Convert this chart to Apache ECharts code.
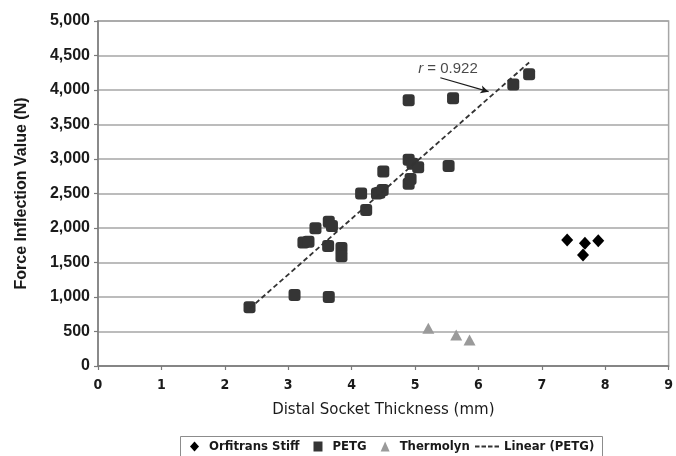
<!DOCTYPE html>
<html>
<head>
<meta charset="utf-8">
<script src="https://cdn.jsdelivr.net/npm/echarts@6/dist/echarts.min.js"></script>
<style>
html,body{margin:0;padding:0;background:#fff;}
#c{width:676px;height:456px;}
</style>
</head>
<body>
<div id="c"></div>
<script>
// ---- data ----
var orfX = [7.40, 7.68, 7.89, 7.65];
var orfY = [1826, 1778, 1816, 1609];

var petgX = [2.39, 3.10, 3.64, 3.24, 3.32, 3.43, 3.64, 3.69, 3.63, 3.84, 3.84, 4.15, 4.23, 4.40, 4.44, 4.49, 4.50, 4.90, 4.90, 4.96, 4.90, 4.93, 5.05, 5.53, 5.60, 6.55, 6.80];
var petgY = [850, 1030, 1000, 1790, 1800, 1995, 2090, 2030, 1740, 1710, 1590, 2500, 2260, 2500, 2510, 2550, 2820, 3850, 2990, 2930, 2640, 2710, 2880, 2900, 3880, 4080, 4230];

var thermX = [5.21, 5.65, 5.86];
var thermY = [546, 449, 377];

var trendX = [2.39, 6.80];
var trendY = [832, 4399];

var annotPos = [5.52, 4304];
var arrowFrom = [5.40, 4178];
var arrowTo = [6.16, 3976];

var seriesNames = ['Orfitrans Stiff', 'PETG', 'Thermolyn', 'Linear (PETG)'];
var xName = 'Distal Socket Thickness (mm)';
var yName = 'Force Inflection Value (N)';

function zip(a, b) { return a.map(function (v, i) { return [v, b[i]]; }); }

var chart = echarts.init(document.getElementById('c'), null, { renderer: 'canvas' });

var legendFont = { fontFamily: 'DejaVu Sans Condensed, DejaVu Sans, sans-serif', fontWeight: 'bold', fontSize: 13, color: '#1a1a1a' };
var dashIcon = 'path://M0,0h4.5v2h-4.5z M6.5,0h4.5v2h-4.5z M13,0h4.5v2h-4.5z M19.5,0h4.5v2h-4.5z';

var option = {
  animation: false,
  backgroundColor: '#fff',
  grid: { left: 98, right: 3, top: 21, bottom: 90, show: true, borderColor: '#a6a6a6', borderWidth: 1.5, backgroundColor: 'transparent' },
  xAxis: {
    type: 'value', min: 0, max: 9, interval: 1,
    name: xName, nameLocation: 'middle', nameGap: 37,
    nameTextStyle: { fontFamily: 'DejaVu Sans, sans-serif', fontSize: 15, color: '#1a1a1a' },
    axisLine: { show: true, onZero: false, lineStyle: { color: '#7a7a7a', width: 1.5 } },
    axisTick: { show: true, length: 4, lineStyle: { color: '#7a7a7a', width: 1.2 } },
    axisLabel: { margin: 12, fontFamily: 'DejaVu Sans Condensed, DejaVu Sans, sans-serif', fontWeight: 'bold', fontSize: 14, color: '#1a1a1a' },
    splitLine: { show: false }
  },
  yAxis: {
    type: 'value', min: 0, max: 5000, interval: 500,
    name: yName, nameLocation: 'middle', nameGap: 68,
    nameTextStyle: { fontFamily: 'Liberation Sans, Arial, sans-serif', fontWeight: 'bold', fontSize: 16, color: '#1a1a1a' },
    axisLine: { show: true, lineStyle: { color: '#7a7a7a', width: 1.5 } },
    axisTick: { show: true, length: 4, lineStyle: { color: '#7a7a7a', width: 1.2 } },
    axisLabel: {
      margin: 8, fontFamily: 'Liberation Sans, Arial, sans-serif', fontWeight: 'bold', fontSize: 16, color: '#1a1a1a',
      formatter: function (v) { return v.toString().replace(/\B(?=(\d{3})+(?!\d))/g, ','); }
    },
    splitLine: { show: true, lineStyle: { color: '#a6a6a6', width: 1.5 } }
  },
  legend: [
    {
      data: [
        { name: seriesNames[0], icon: 'diamond', itemStyle: { color: '#000', opacity: 1 } },
        { name: seriesNames[1], icon: 'rect', itemStyle: { color: '#353535', opacity: 1 } },
        { name: seriesNames[2], icon: 'triangle', itemStyle: { color: '#9a9a9a', opacity: 1 } }
      ],
      left: 190, top: 440, padding: 0,
      itemWidth: 9, itemHeight: 10, itemGap: 14,
      textStyle: Object.assign({ padding: [0, 0, 0, 5] }, legendFont)
    },
    {
      data: [{ name: seriesNames[3], icon: dashIcon, itemStyle: { color: '#333', opacity: 1 } }],
      left: 475, top: 440, padding: 0,
      itemWidth: 24, itemHeight: 2, itemGap: 0,
      textStyle: legendFont
    }
  ],
  graphic: [
    { type: 'rect', left: 178, top: 434, shape: { width: 422, height: 30 }, style: { fill: 'none', stroke: '#8c8c8c', lineWidth: 1 }, z: 0 }
  ],
  series: [
    {
      name: seriesNames[0], type: 'scatter', symbol: 'diamond', symbolSize: [12, 13],
      itemStyle: { color: '#000', opacity: 1 }, data: zip(orfX, orfY), z: 3
    },
    {
      name: seriesNames[1], type: 'scatter', symbol: 'roundRect', symbolSize: 12,
      itemStyle: { color: '#353535', opacity: 1 }, data: zip(petgX, petgY), z: 3
    },
    {
      name: seriesNames[2], type: 'scatter', symbol: 'triangle', symbolSize: [12, 11],
      itemStyle: { color: '#9a9a9a', opacity: 1 }, data: zip(thermX, thermY), z: 3
    },
    {
      name: seriesNames[3], type: 'line', symbol: 'none', showSymbol: false,
      lineStyle: { color: '#333', width: 1.8, type: [5, 3] },
      itemStyle: { color: '#333' },
      data: zip(trendX, trendY), z: 4
    },
    {
      name: 'annot', type: 'scatter', symbolSize: 0, silent: true,
      data: [annotPos],
      label: {
        show: true, position: 'inside',
        formatter: '{i|r}{n| = 0.922}',
        rich: {
          i: { fontFamily: 'Liberation Sans, Arial, sans-serif', fontStyle: 'italic', fontSize: 15, color: '#1a1a1a' },
          n: { fontFamily: 'Liberation Sans, Arial, sans-serif', fontSize: 15, color: '#1a1a1a' }
        }
      },
      markLine: {
        silent: true, symbol: ['none', 'arrow'], symbolSize: [6, 8],
        lineStyle: { color: '#1a1a1a', width: 1.2, type: 'solid' },
        label: { show: false },
        data: [[{ coord: arrowFrom }, { coord: arrowTo }]]
      },
      z: 5
    }
  ]
};

chart.setOption(option);
</script>
</body>
</html>
